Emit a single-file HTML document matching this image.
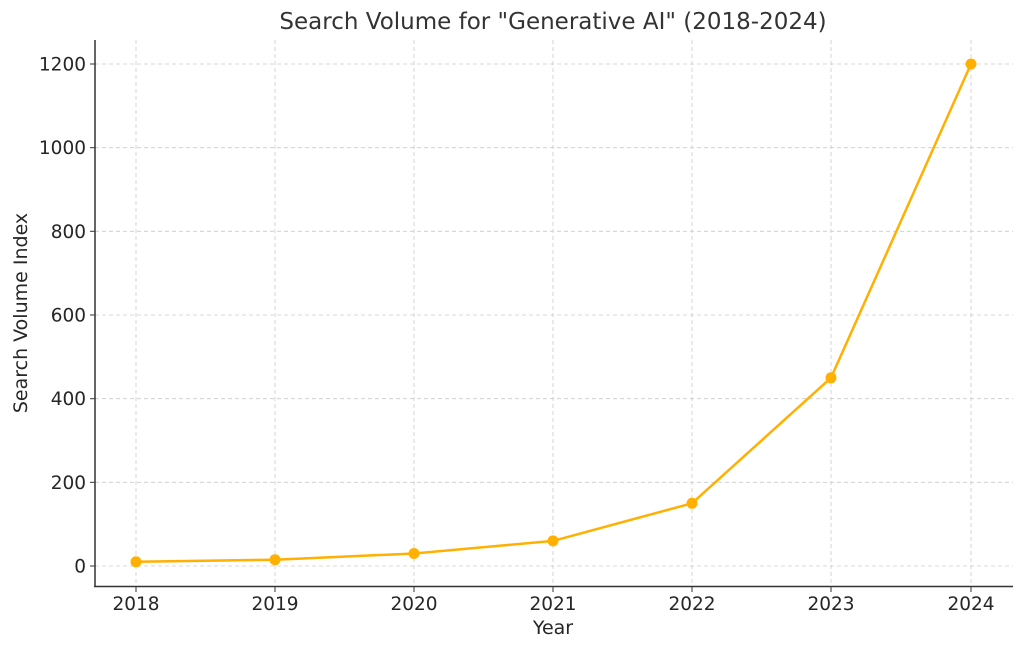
<!DOCTYPE html>
<html><head><style>body{margin:0;background:#fff}</style></head><body>
<svg width="1024" height="650" xmlns="http://www.w3.org/2000/svg" font-family="DejaVu Sans, sans-serif">
<rect width="1024" height="650" fill="#fff"/>
<g stroke="#cccccc" stroke-width="0.8" stroke-dasharray="4,3">
<line x1="136" y1="40" x2="136" y2="586"/><line x1="275" y1="40" x2="275" y2="586"/><line x1="414" y1="40" x2="414" y2="586"/><line x1="553" y1="40" x2="553" y2="586"/><line x1="692" y1="40" x2="692" y2="586"/><line x1="831" y1="40" x2="831" y2="586"/><line x1="971" y1="40" x2="971" y2="586"/>
<line x1="95" y1="566" x2="1013" y2="566"/><line x1="95" y1="482.3" x2="1013" y2="482.3"/><line x1="95" y1="398.7" x2="1013" y2="398.7"/><line x1="95" y1="315" x2="1013" y2="315"/><line x1="95" y1="231.3" x2="1013" y2="231.3"/><line x1="95" y1="147.7" x2="1013" y2="147.7"/><line x1="95" y1="64" x2="1013" y2="64"/>
</g>
<g stroke="#333" stroke-width="1.5">
<line x1="95" y1="40" x2="95" y2="587"/><line x1="94" y1="586.5" x2="1013" y2="586.5"/>
</g>
<g stroke="#333" stroke-width="1">
<line x1="90" y1="566" x2="95" y2="566"/><line x1="90" y1="482.3" x2="95" y2="482.3"/><line x1="90" y1="398.7" x2="95" y2="398.7"/><line x1="90" y1="315" x2="95" y2="315"/><line x1="90" y1="231.3" x2="95" y2="231.3"/><line x1="90" y1="147.7" x2="95" y2="147.7"/><line x1="90" y1="64" x2="95" y2="64"/>
<line x1="136" y1="587" x2="136" y2="592"/><line x1="275" y1="587" x2="275" y2="592"/><line x1="414" y1="587" x2="414" y2="592"/><line x1="553" y1="587" x2="553" y2="592"/><line x1="692" y1="587" x2="692" y2="592"/><line x1="831" y1="587" x2="831" y2="592"/><line x1="971" y1="587" x2="971" y2="592"/>
</g>
<g font-size="18.5" fill="#262626" text-anchor="end">
<text x="86" y="572.5">0</text><text x="86" y="489">200</text><text x="86" y="405">400</text><text x="86" y="321.5">600</text><text x="86" y="238">800</text><text x="86" y="154">1000</text><text x="86" y="70.5">1200</text>
</g>
<g font-size="18.5" fill="#262626" text-anchor="middle">
<text x="136" y="610">2018</text><text x="275" y="610">2019</text><text x="414" y="610">2020</text><text x="553" y="610">2021</text><text x="692" y="610">2022</text><text x="831" y="610">2023</text><text x="971" y="610">2024</text>
<text x="553" y="634" font-size="19">Year</text>
<text x="553" y="29" font-size="23" fill="#333">Search Volume for "Generative AI" (2018-2024)</text>
<text transform="translate(27,313) rotate(-90)" font-size="19">Search Volume Index</text>
</g>
<polyline fill="none" stroke="#FFB000" stroke-width="2.5" points="136,561.8 275,559.7 414,553.5 553,540.9 692,503.3 831,377.8 971,64"/>
<g fill="#FFB000">
<circle cx="136" cy="561.8" r="5.5"/><circle cx="275" cy="559.7" r="5.5"/><circle cx="414" cy="553.5" r="5.5"/><circle cx="553" cy="540.9" r="5.5"/><circle cx="692" cy="503.3" r="5.5"/><circle cx="831" cy="377.8" r="5.5"/><circle cx="971" cy="64" r="5.5"/>
</g>
</svg>
</body></html>
